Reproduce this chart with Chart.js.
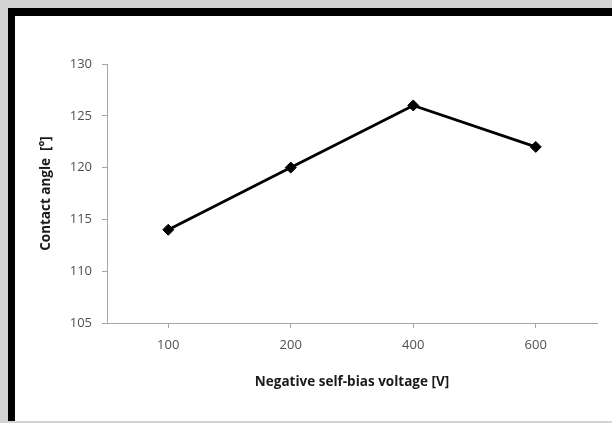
<!DOCTYPE html>
<html>
<head>
<meta charset="utf-8">
<script src="https://cdn.jsdelivr.net/npm/chart.js@4/dist/chart.umd.min.js"></script>
<style>
  html, body { margin: 0; padding: 0; width: 612px; height: 423px; overflow: hidden; background: #d3d3d3; }
  #frame { position: absolute; left: 8px; top: 8px; width: 604px; height: 413px; box-sizing: border-box;
           background: #ffffff; border-left: 7px solid #000; border-top: 8px solid #000; }
  #c { position: absolute; left: 0; top: 0; }
</style>
</head>
<body>
<div id="frame"></div>
<canvas id="c" width="612" height="423"></canvas>
<script>
const categories = ['100', '200', '400', '600'];
const contactAngle = [114, 120, 126, 122];
const yTicks = [105, 110, 115, 120, 125, 130];
const xTitle = 'Negative self-bias voltage [V]';
const yTitle = 'Contact angle  [°]';

const axisGrey = '#a6a6a6';
const labelGrey = '#505050';
const fontFam = 'Open Sans, Liberation Sans, sans-serif';

new Chart(document.getElementById('c'), {
  type: 'line',
  data: {
    labels: categories,
    datasets: [{
      data: contactAngle,
      borderColor: '#000',
      borderWidth: 2.8,
      backgroundColor: '#000',
      pointStyle: 'rectRot',
      pointRadius: 5.5,
      pointBackgroundColor: '#000',
      pointBorderColor: '#000',
      pointBorderWidth: 1,
      tension: 0,
      fill: false
    }]
  },
  options: {
    responsive: false,
    animation: false,
    devicePixelRatio: 1,
    layout: { padding: { left: 38, right: 15, top: 64, bottom: 33 } },
    plugins: { legend: { display: false }, tooltip: { enabled: false } },
    scales: {
      x: {
        type: 'category',
        offset: true,
        grid: { display: true, drawOnChartArea: false, offset: false, tickLength: 5, color: axisGrey, lineWidth: 1 },
        border: { display: true, color: axisGrey, width: 1 },
        ticks: { color: labelGrey, font: { family: fontFam, size: 13 }, padding: 9, maxRotation: 0 },
        title: { display: true, text: xTitle, color: '#1a1a1a', font: { family: fontFam, size: 13.5, weight: 'bold' }, padding: 0 },
        afterFit: s => { s.height = 67; }
      },
      y: {
        min: 105, max: 130,
        afterBuildTicks: s => { s.ticks = yTicks.map(v => ({ value: v })); },
        grid: { display: true, drawOnChartArea: false, tickLength: 5, color: axisGrey, lineWidth: 1 },
        border: { display: true, color: axisGrey, width: 1 },
        ticks: { color: labelGrey, font: { family: fontFam, size: 13 }, padding: 10 },
        title: { display: true, text: yTitle, color: '#1a1a1a', font: { family: fontFam, size: 13.5, weight: 'bold' }, padding: 0 },
        afterFit: s => { s.width = 69; }
      }
    }
  }
});
</script>
</body>
</html>
